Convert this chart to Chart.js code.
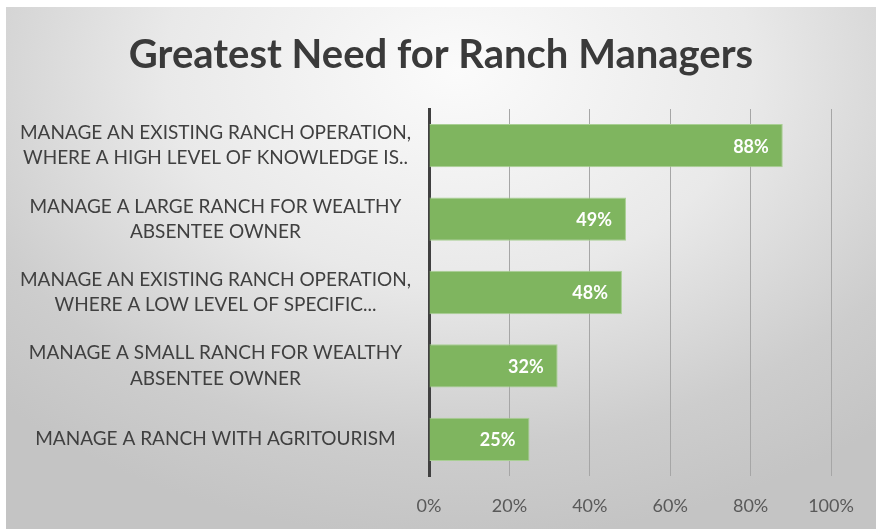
<!DOCTYPE html>
<html>
<head>
<meta charset="utf-8">
<script src="https://cdn.jsdelivr.net/npm/chart.js@4"></script>
<style>
  html, body { margin: 0; padding: 0; background: #fff; }
  #box {
    position: absolute; left: 6px; top: 7px; width: 870px; height: 522px;
    background: radial-gradient(ellipse 75% 90% at 52% 12%, #fbfbfb 0%, #e9e9e9 45%, #cdcdcd 80%, #c4c4c4 100%);
  }
</style>
</head>
<body>
<div id="box"><canvas id="ranchChart"></canvas></div>
<script>
// chart data
const categories = [
    ['MANAGE AN EXISTING RANCH OPERATION,', 'WHERE A HIGH LEVEL OF KNOWLEDGE IS..'],
    ['MANAGE A LARGE RANCH FOR WEALTHY', 'ABSENTEE OWNER'],
    ['MANAGE AN EXISTING RANCH OPERATION,', 'WHERE A LOW LEVEL OF SPECIFIC...'],
    ['MANAGE A SMALL RANCH FOR WEALTHY', 'ABSENTEE OWNER'],
    'MANAGE A RANCH WITH AGRITOURISM'
];
const shares = [88, 49, 48, 32, 25];
const tickValues = [0, 20, 40, 60, 80, 100];

// white % labels at the inner end of each bar
const barLabels = {
    id: 'barLabels',
    afterDatasetsDraw(chart) {
        const ctx = chart.ctx;
        const meta = chart.getDatasetMeta(0);
        ctx.save();
        ctx.font = 'bold 18px Lato';
        ctx.fillStyle = '#ffffff';
        ctx.textAlign = 'right';
        ctx.textBaseline = 'middle';
        meta.data.forEach((bar, i) => {
            ctx.fillText(shares[i] + '%', bar.x - 14, bar.y + 1);
        });
        ctx.restore();
    }
};

const ctx = document.getElementById('ranchChart').getContext('2d');
const ranchChart = new Chart(ctx, {
    type: 'bar',
    data: {
        labels: categories,
        datasets: [{
            data: shares,
            yAxisID: 'y',
            backgroundColor: '#7fb55f',
            borderColor: '#a9cf94',
            borderWidth: 1,
            barPercentage: 0.59,
            categoryPercentage: 1
        }]
    },
    options: {
        indexAxis: 'y',
        responsive: true,
        maintainAspectRatio: false,
        animation: false,
        layout: { padding: 0 },
        plugins: {
            legend: { display: false },
            tooltip: { enabled: false },
            title: {
                display: true,
                text: 'Greatest Need for Ranch Managers',
                color: '#3a3a3a',
                font: { family: 'Lato', size: 40, weight: 'bold', lineHeight: 1.2 },
                padding: { top: 24, bottom: 30 }
            }
        },
        scales: {
            x: {
                min: 0,
                max: 100,
                afterBuildTicks(scale) {
                    scale.ticks = tickValues.map(v => ({ value: v }));
                },
                afterFit(scale) { scale.height = 53; },
                ticks: {
                    color: '#595959',
                    font: { family: 'Lato', size: 18 },
                    padding: 19,
                    callback: v => v + '%'
                },
                grid: {
                    color: '#a6a6a6',
                    lineWidth: 1,
                    drawTicks: false
                },
                border: { display: false }
            },
            y: {
                position: 'left',
                afterFit(scale) { scale.width = 423; },
                ticks: {
                    color: '#404040',
                    font: { family: 'Lato', size: 19, lineHeight: 1.32 },
                    crossAlign: 'center',
                    padding: 18
                },
                grid: { display: false, drawTicks: false },
                border: { display: true, color: '#404040', width: 3 }
            },
            // empty right-hand strip so the plot ends before the box edge
            yRight: {
                type: 'category',
                position: 'right',
                afterFit(scale) { scale.width = 45; },
                ticks: { display: false },
                grid: { display: false, drawTicks: false },
                border: { display: false }
            }
        }
    },
    plugins: [barLabels]
});
</script>
</body>
</html>
